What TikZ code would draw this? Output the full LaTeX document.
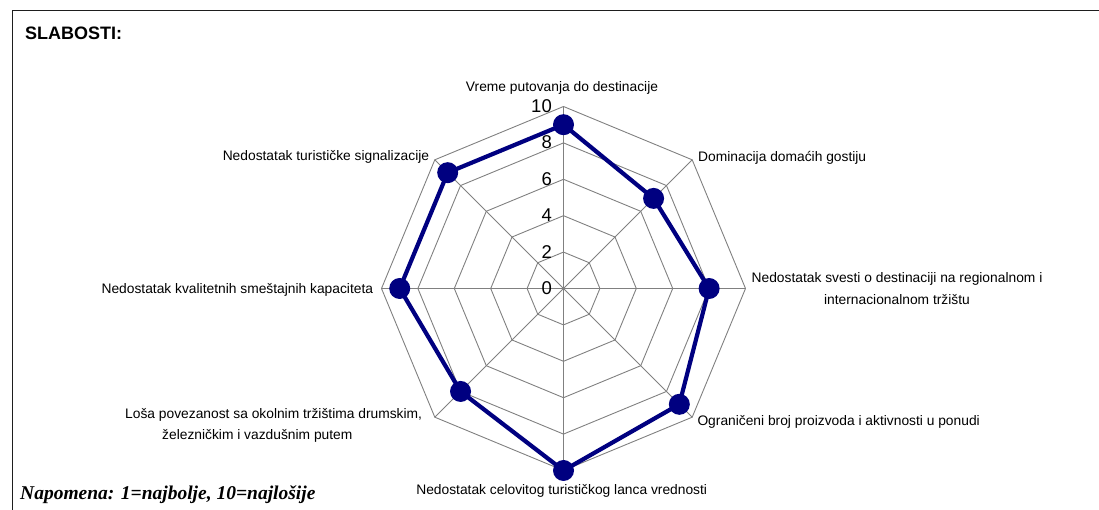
\documentclass[tikz,border=0pt]{standalone}
\usepackage{fontspec}
\setmainfont{Liberation Sans}
\newfontfamily\notefont{Liberation Serif}
\definecolor{seriesblue}{RGB}{0,0,128}
\definecolor{gridgray}{RGB}{128,128,128}
\definecolor{framegray}{RGB}{30,30,30}
\begin{document}
\begin{tikzpicture}[x=1pt,y=1pt,
  gridline/.style={draw=gridgray,line width=0.9pt},
  series/.style={draw=seriesblue,line width=4.2pt,line join=round},
  marker/.style={circle,fill=seriesblue,inner sep=0pt,minimum size=21pt},
  ticklabel/.style={font=\fontsize{18.5}{20}\selectfont,inner sep=0pt,anchor=east},
  axislabel/.style={font=\fontsize{13.8}{21.4}\selectfont,inner sep=0pt},
  framebox/.style={draw=framegray,line width=1.5pt}]
\useasboundingbox (0,0) rectangle (1099,510);

% frame (top and left edges)
\draw[framebox] (1102,499.7) -- (12.3,499.7) -- (12.3,-2);

% title and note
\node[anchor=base west,inner sep=0pt,font=\fontsize{18}{20}\selectfont\bfseries] (title) at (25,470) {SLABOSTI:};
\node[anchor=base west,inner sep=0pt,font=\fontsize{19.5}{21}\selectfont\notefont\bfseries\itshape] (note) at (20,10) {Napomena: 1=najbolje, 10=najlošije};

\begin{scope}[shift={(563.5,221.5)}]
  % rings every 2 units, 18.2pt per unit
  \foreach \r in {2,4,...,10} {
    \pgfmathsetmacro\rr{\r*18.2}
    \draw[gridline] (0:\rr) -- (45:\rr) -- (90:\rr) -- (135:\rr) -- (180:\rr) -- (225:\rr) -- (270:\rr) -- (315:\rr) -- cycle;
  }
  % spokes
  \foreach \a in {0,45,...,315}
    \draw[gridline] (0,0) -- (\a:182);

  % scale labels
  \foreach \v in {0,2,...,10}
    \node[ticklabel] (t\v) at (-11.5,\v*18.2+0.3) {\v};

  % data points
  \coordinate (v1) at (90:9*18.2);
  \coordinate (v2) at (45:7*18.2);
  \coordinate (v3) at (0:8*18.2);
  \coordinate (v4) at (-45:9*18.2);
  \coordinate (v5) at (-90:10*18.2);
  \coordinate (v6) at (-135:8*18.2);
  \coordinate (v7) at (180:9*18.2);
  \coordinate (v8) at (135:9*18.2);
  \draw[series] (v1) -- (v2) -- (v3) -- (v4) -- (v5) -- (v6) -- (v7) -- (v8) -- cycle;
  \foreach \i in {1,...,8}
    \node[marker] (m\i) at (v\i) {};
\end{scope}

% axis labels (multi-line labels are anchored at the baseline of their last line)
\node[axislabel,anchor=base] (l1) at (562,418) {Vreme putovanja do destinacije};
\node[axislabel,anchor=base west] (l2) at (698,348) {Dominacija domaćih gostiju};
\node[axislabel,anchor=base,align=center] (l3) at (897,205.8) {Nedostatak svesti o destinaciji na regionalnom i\\internacionalnom tržištu};
\node[axislabel,anchor=base west] (l4) at (697.3,84.3) {Ograničeni broj proizvoda i aktivnosti u ponudi};
\node[axislabel,anchor=base] (l5) at (561.7,15) {Nedostatak celovitog turističkog lanca vrednosti};
\node[axislabel,anchor=base west,align=left] (l6) at (125,70) {Loša povezanost sa okolnim tržištima drumskim,\\\hspace*{37pt}železničkim i vazdušnim putem};
\node[axislabel,anchor=base east] (l7) at (373.3,216.7) {Nedostatak kvalitetnih smeštajnih kapaciteta};
\node[axislabel,anchor=base east] (l8) at (429.3,349.3) {Nedostatak turističke signalizacije};
\end{tikzpicture}
\end{document}
